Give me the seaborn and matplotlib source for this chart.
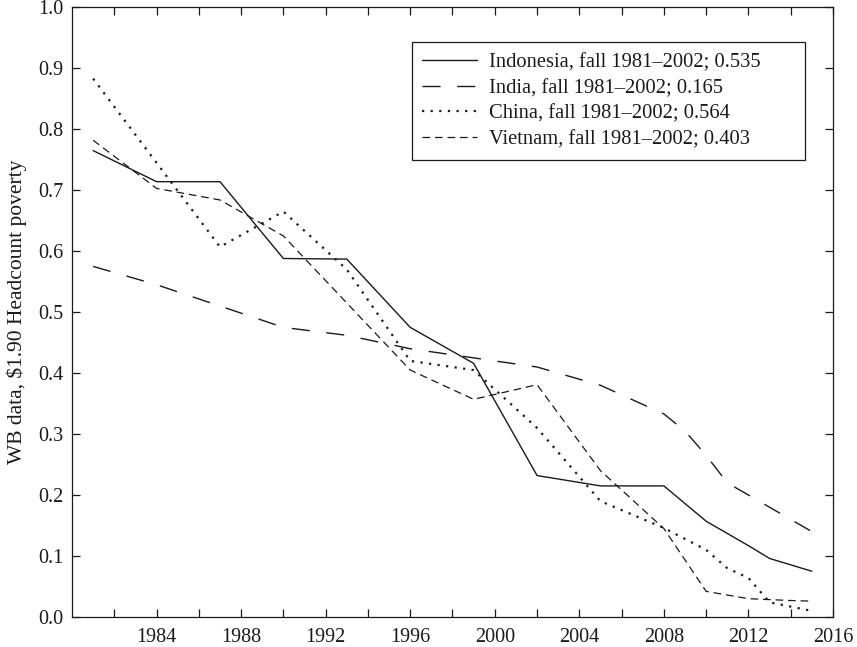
import matplotlib
matplotlib.use("Agg")
import matplotlib.pyplot as plt
import seaborn as sns
import numpy as np
import pandas as pd
from matplotlib.ticker import FixedLocator, FormatStrFormatter

# ---- data ----
indonesia_years = [1981, 1984, 1987, 1990, 1993, 1996, 1999, 2002, 2005, 2008, 2010, 2012, 2013, 2015]
indonesia_vals  = [0.765, 0.714, 0.714, 0.588, 0.587, 0.475, 0.416, 0.232, 0.215, 0.215, 0.157, 0.117, 0.096, 0.075]

india_years = [1981, 1984, 1987, 1990, 1993, 1996, 1999, 2002, 2005, 2008, 2009, 2010, 2011, 2015]
india_vals  = [0.575, 0.545, 0.510, 0.475, 0.462, 0.440, 0.425, 0.410, 0.380, 0.333, 0.305, 0.265, 0.220, 0.140]

china_years = [1981, 1984, 1987, 1990, 1993, 1996, 1999, 2002, 2005, 2008, 2010, 2011, 2012, 2013, 2015]
china_vals  = [0.883, 0.745, 0.607, 0.665, 0.570, 0.420, 0.405, 0.310, 0.190, 0.146, 0.110, 0.080, 0.064, 0.024, 0.010]

vietnam_years = [1981, 1984, 1987, 1990, 1993, 1996, 1999, 2002, 2005, 2008, 2010, 2012, 2014, 2015]
vietnam_vals  = [0.782, 0.703, 0.684, 0.625, 0.515, 0.405, 0.357, 0.381, 0.240, 0.145, 0.042, 0.030, 0.027, 0.026]

labels = ["Indonesia, fall 1981\u20132002; 0.535",
          "India, fall 1981\u20132002; 0.165",
          "China, fall 1981\u20132002; 0.564",
          "Vietnam, fall 1981\u20132002; 0.403"]

x_tick_labels = [1984, 1988, 1992, 1996, 2000, 2004, 2008, 2012, 2016]
y_ticks = [0.0, 0.1, 0.2, 0.3, 0.4, 0.5, 0.6, 0.7, 0.8, 0.9, 1.0]

# ---- style ----
sns.set_style("ticks")
plt.rcParams["font.family"] = ["Liberation Serif", "DejaVu Serif"]
plt.rcParams["lines.scale_dashes"] = False

fig = plt.figure(figsize=(8.57, 6.47), dpi=100)
ax = fig.add_axes([0.084, 0.0464, 0.888, 0.9423])

ink = "#1a1a1a"
series = [
    (indonesia_years, indonesia_vals, dict(linestyle="-", linewidth=1.0)),
    (india_years, india_vals, dict(linestyle=(0, (13, 12)), linewidth=1.0)),
    (china_years, china_vals, dict(linestyle=(0, (1.6, 4.6)), linewidth=1.6)),
    (vietnam_years, vietnam_vals, dict(linestyle=(0, (5.5, 3.5)), linewidth=0.9)),
]
for (yrs, vals, kw), lab in zip(series, labels):
    df = pd.DataFrame({"year": yrs, "value": vals})
    sns.lineplot(data=df, x="year", y="value", ax=ax, color=ink, label=lab, **kw)

ax.set_xlim(1980, 2016)
ax.set_ylim(0, 1.0)
ax.xaxis.set_major_locator(FixedLocator(x_tick_labels))
ax.xaxis.set_minor_locator(FixedLocator([1982, 1986, 1990, 1994, 1998, 2002, 2006, 2010, 2014]))
ax.set_yticks(y_ticks)
ax.yaxis.set_major_formatter(FormatStrFormatter("%.1f"))
ax.tick_params(which="both", direction="in", top=True, right=True, length=5.5, width=0.9,
               color=ink, labelsize=14.5, labelcolor=ink, pad=6)
ax.tick_params(axis="x", pad=8)
for s in ax.spines.values():
    s.set_linewidth(0.9)
    s.set_color(ink)

ax.set_xlabel("")
ax.set_ylabel("WB data, $1.90 Headcount poverty", fontsize=15.5, color=ink, labelpad=8)

leg = ax.legend(loc="upper left", bbox_to_anchor=(0.4468, 0.9426, 0.5165, 0.0),
                mode="expand", borderaxespad=0, fontsize=14.8,
                frameon=True, fancybox=False, edgecolor=ink, framealpha=1,
                handlelength=2.67, handletextpad=0.58, borderpad=0.5, labelspacing=0.31)
leg.get_frame().set_linewidth(0.9)
for t in leg.get_texts():
    t.set_color(ink)

fig.savefig("out.png", dpi=100)
